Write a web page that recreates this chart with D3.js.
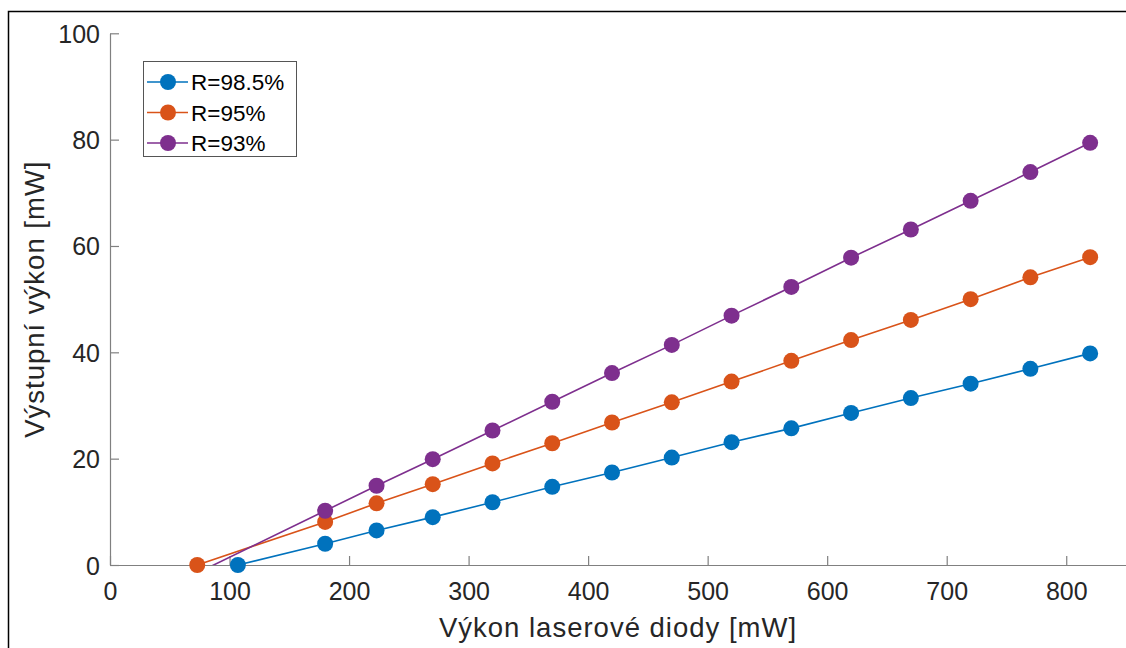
<!DOCTYPE html>
<html>
<head>
<meta charset="utf-8">
<script src="https://cdn.jsdelivr.net/npm/d3@7"></script>
<style>
  body { margin: 0; background: #fff; }
  svg { display: block; font-family: "Liberation Sans", Arial, sans-serif; }
</style>
</head>
<body>
<div id="chart"></div>
<script>
'use strict';
// laser diode power [mW] (x) and output power [mW] (y) for each mirror reflectivity
const pump985 = [107, 180, 223, 270, 320, 370, 420, 470, 520, 570, 620, 670, 720, 770, 820];
const out985 = [0, 4.0, 6.5, 9.0, 11.8, 14.7, 17.4, 20.2, 23.1, 25.7, 28.6, 31.4, 34.1, 36.9, 39.8];
const pump95 = [73, 180, 223, 270, 320, 370, 420, 470, 520, 570, 620, 670, 720, 770, 820];
const out95 = [0, 8.1, 11.6, 15.2, 19.1, 22.9, 26.8, 30.6, 34.5, 38.4, 42.3, 46.1, 50.0, 54.1, 57.9];
const pump93 = [73, 180, 223, 270, 320, 370, 420, 470, 520, 570, 620, 670, 720, 770, 820];
const out93 = [-1.5, 10.2, 14.9, 19.9, 25.3, 30.7, 36.1, 41.4, 46.9, 52.3, 57.8, 63.1, 68.5, 73.9, 79.4];
const seriesNames = ["R=98.5%", "R=95%", "R=93%"];
const seriesColors = ["#0072BD", "#D95319", "#7E2F8E"];
const xTicks = [0, 100, 200, 300, 400, 500, 600, 700, 800];
const yTicks = [0, 20, 40, 60, 80, 100];

const width = 1126, height = 648;
const margin = { left: 110, right: 0, top: 33.3, bottom: 83 };

let svg = d3.select("#chart").append("svg")
  .attr("width", width)
  .attr("height", height);

// outer figure frame (cropped)
svg.append("rect")
  .attr("x", 8.5).attr("y", 11.5)
  .attr("width", width + 20).attr("height", height + 20)
  .attr("fill", "none")
  .attr("stroke", "#000")
  .attr("stroke-width", 1.5);

let x = d3.scaleLinear().domain([0, 850]).range([margin.left, width - margin.right]);
let y = d3.scaleLinear().domain([0, 100]).range([height - margin.bottom, margin.top]);

svg.append("clipPath").attr("id", "plotClip")
  .append("rect")
  .attr("x", x(0)).attr("y", y(100))
  .attr("width", x(850) - x(0)).attr("height", y(0) - y(100));

// axes
let axisColor = "#808080", textColor = "#262626";
let xAxis = d3.axisBottom(x).tickValues(xTicks).tickSize(-9).tickPadding(17).tickSizeOuter(0);
let yAxis = d3.axisLeft(y).tickValues(yTicks).tickSize(-9).tickPadding(10).tickSizeOuter(0);

let gx = svg.append("g")
  .attr("transform", "translate(0," + y(0) + ")")
  .call(xAxis);
let gy = svg.append("g")
  .attr("transform", "translate(" + x(0) + ",0)")
  .call(yAxis);
[gx, gy].forEach(function (g) {
  g.select(".domain").attr("stroke", axisColor).attr("stroke-width", 1.2);
  g.selectAll(".tick line").attr("stroke", axisColor).attr("stroke-width", 1.2);
  g.selectAll(".tick text")
    .attr("fill", textColor)
    .attr("font-size", "25px")
    .attr("font-family", "Liberation Sans, Arial, sans-serif");
});
gx.selectAll(".tick text").attr("dy", "0.71em");
gy.selectAll(".tick text").attr("dy", "0.36em");

// axis titles
svg.append("text")
  .attr("x", (x(0) + x(850)) / 2)
  .attr("y", 637)
  .attr("text-anchor", "middle")
  .attr("font-size", "27.5px")
  .attr("letter-spacing", "1px")
  .attr("fill", textColor)
  .text("Výkon laserové diody [mW]");

svg.append("text")
  .attr("transform", "translate(44," + ((y(0) + y(100)) / 2) + ") rotate(-90)")
  .attr("text-anchor", "middle")
  .attr("font-size", "27.5px")
  .attr("letter-spacing", "1px")
  .attr("fill", textColor)
  .text("Výstupní výkon [mW]");

// series
let series = [
  { name: seriesNames[0], color: seriesColors[0], xs: pump985, ys: out985 },
  { name: seriesNames[1], color: seriesColors[1], xs: pump95, ys: out95 },
  { name: seriesNames[2], color: seriesColors[2], xs: pump93, ys: out93 }
];

let line = d3.line()
  .x(function (d) { return x(d[0]); })
  .y(function (d) { return y(d[1]); });

let plot = svg.append("g");
series.forEach(function (s) {
  let pts = s.xs.map(function (v, i) { return [v, s.ys[i]]; });
  plot.append("path")
    .datum(pts)
    .attr("clip-path", "url(#plotClip)")
    .attr("d", line)
    .attr("fill", "none")
    .attr("stroke", s.color)
    .attr("stroke-width", 1.6);
  // markers outside the axes limits are not drawn
  plot.selectAll(null)
    .data(pts.filter(function (d) { return d[1] >= 0; }))
    .enter()
    .append("circle")
    .attr("cx", function (d) { return x(d[0]); })
    .attr("cy", function (d) { return y(d[1]); })
    .attr("r", 8)
    .attr("fill", s.color);
});

// legend
let legend = svg.append("g");
legend.append("rect")
  .attr("x", 143.5).attr("y", 61.5)
  .attr("width", 153).attr("height", 95)
  .attr("fill", "#fff")
  .attr("stroke", "#555")
  .attr("stroke-width", 1);
series.forEach(function (s, i) {
  let cy = 82 + i * 30.5;
  legend.append("line")
    .attr("x1", 147).attr("x2", 188)
    .attr("y1", cy).attr("y2", cy)
    .attr("stroke", s.color)
    .attr("stroke-width", 1.6);
  legend.append("circle")
    .attr("cx", 168).attr("cy", cy).attr("r", 8)
    .attr("fill", s.color);
  legend.append("text")
    .attr("x", 191)
    .attr("y", cy + 8)
    .attr("font-size", "22.5px")
    .attr("fill", "#000")
    .text(s.name);
});
</script>
</body>
</html>
